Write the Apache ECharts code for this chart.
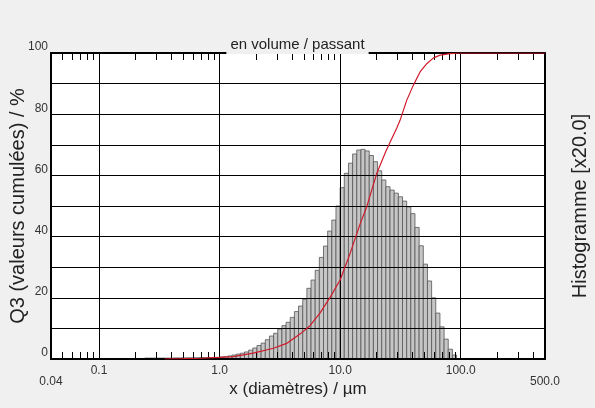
<!DOCTYPE html>
<html><head><meta charset="utf-8">
<script src="https://cdn.jsdelivr.net/npm/echarts@6/dist/echarts.min.js"></script>
<style>html,body{margin:0;padding:0;background:#f0f0f0;}#c{width:595px;height:408px;}</style>
</head><body><div id="c"></div>
<script>
// Histogram class edges (µm) and heights (y-axis units, histogram scaled x20)
const binEdges = [0.2395,0.2593,0.2807,0.3039,0.3290,0.3562,0.3857,0.4175,0.4520,0.4894,0.5298,0.5736,0.6210,0.6723,0.7279,0.7881,0.8532,0.9237,
  1.0,1.0826,1.1721,1.2690,1.3738,1.4874,1.6103,1.7434,1.8874,2.0434,2.2122,2.3950,2.5929,2.8072,3.0392,3.2903,3.5622,3.8566,4.1753,4.5203,4.8939,5.2983,5.7362,6.2102,6.7234,7.2790,7.8805,8.5317,9.2367,
  10,10.826,11.721,12.690,13.738,14.874,16.103,17.434,18.874,20.434,22.122,23.950,25.929,28.072,30.392,32.903,35.622,38.566,41.753,45.203,48.939,52.983,57.362,62.102,67.234,72.790,78.805,85.317,92.367];
const histValues = [0.3,0.3,0.3,0.3,0.3,0.3,0.3,0.35,0.35,0.35,0.4,0.4,0.4,0.45,0.45,0.5,0.5,0.55,
  0.65,0.8,1.0,1.3,1.6,1.9,2.3,2.9,3.6,4.4,5.2,6.3,7.5,8.4,9.8,10.9,12.0,13.6,15.5,17.3,19.5,23.1,25.8,29.0,33.2,36.9,41.8,45.4,50.0,
  56.0,60.7,64.0,67.0,68.3,68.5,68.0,66.5,64.5,61.5,58.5,56.3,55.2,54.2,53.0,51.6,49.7,47.5,43.0,37.0,31.0,25.5,20.0,15.0,10.5,6.5,3.2,1.3];
// Cumulative passing curve Q3 (%)
const cumSizes  = [0.35,0.5,0.7,1.0,1.3,1.9,2.8,3.6,4.7,5.6,6.8,8.3,10,12.1,14.6,16.6,20.1,24,29.5,31.4,35.7,40.5,46,52.3,59.4,67.6,81.7,98.8,500];
const cumValues = [0,0.1,0.25,0.5,0.8,1.9,3.5,5.1,8.3,10.8,15,20.3,25.8,34.5,44,49.7,60.6,68,75.5,78,84.6,89.5,93.8,96.5,98.4,99.3,99.8,100,100];
// Axis ticks / labels
const xTickValues = [0.04,0.1,1,10,100,500];
const xTickLabels = ['0.04','0.1','1.0','10.0','100.0','500.0'];
const xMinorTicks = [0.05,0.06,0.07,0.08,0.09,0.2,0.3,0.4,0.5,0.6,0.7,0.8,0.9,2,3,4,5,6,7,8,9,20,30,40,50,60,70,80,90,200,300,400];
const yLabelValues = [0,20,40,60,80,100];

const FONT = 'Liberation Sans, Arial, sans-serif';
function xLabel(v, onlyEnds) {
  for (let i = 0; i < xTickValues.length; i++) {
    if (Math.abs(v - xTickValues[i]) / xTickValues[i] < 1e-6) {
      const isEnd = (i === 0 || i === xTickValues.length - 1);
      return (isEnd === onlyEnds) ? xTickLabels[i] : '';
    }
  }
  return '';
}
const histData = histValues.map((v, i) => [binEdges[i], binEdges[i + 1], v]);
const cumData = cumSizes.map((s, i) => [s, cumValues[i]]);

const chart = echarts.init(document.getElementById('c'), null, {renderer: 'canvas'});
chart.setOption({
  backgroundColor: '#f0f0f0',
  animation: false,
  title: {
    text: 'en volume / passant', left: 'center', top: 35, z: 10,
    backgroundColor: '#f0f0f0', padding: [2, 4, 2, 4],
    textStyle: {fontFamily: FONT, fontSize: 15, fontWeight: 'normal', color: '#222'}
  },
  grid: {left: 51, right: 50, top: 53, bottom: 49, show: true, backgroundColor: '#ffffff', borderWidth: 0,
    containLabel: false, outerBoundsMode: 'none'},
  xAxis: [
    {
      type: 'log', logBase: 10, min: 0.04, max: 500, position: 'bottom', z: 3,
      axisLine: {show: true, lineStyle: {color: '#000', width: 2}},
      axisTick: {show: false},
      splitLine: {show: true, lineStyle: {color: '#000', width: 1}},
      axisLabel: {show: true, margin: 6, fontFamily: FONT, fontSize: 12, color: '#333', formatter: v => xLabel(v, false)},
      name: 'x (diamètres) / µm', nameLocation: 'middle', nameGap: 22, nameMoveOverlap: false,
      nameTextStyle: {fontFamily: FONT, fontSize: 17, color: '#222'}
    },
    {
      type: 'log', logBase: 10, min: 0.04, max: 500, position: 'bottom', z: 3,
      axisLine: {show: false},
      axisTick: {show: true, inside: true, length: 7, customValues: xMinorTicks, lineStyle: {color: '#000', width: 1}},
      splitLine: {show: false},
      axisLabel: {show: true, margin: 17, showMinLabel: true, showMaxLabel: true, fontFamily: FONT, fontSize: 12, color: '#333', formatter: v => xLabel(v, true)}
    },
    {
      type: 'log', logBase: 10, min: 0.04, max: 500, position: 'top', z: 3,
      axisLine: {show: true, lineStyle: {color: '#000', width: 2}},
      axisTick: {show: true, inside: true, length: 7, customValues: xMinorTicks, lineStyle: {color: '#000', width: 1}},
      splitLine: {show: false},
      axisLabel: {show: false}
    }
  ],
  yAxis: [
    {
      type: 'value', min: 0, max: 100, interval: 10, position: 'left', z: 3,
      axisLine: {show: true, lineStyle: {color: '#000', width: 2}},
      axisTick: {show: false},
      splitLine: {show: true, lineStyle: {color: '#000', width: 1}},
      axisLabel: {margin: 3, verticalAlign: 'bottom', fontFamily: FONT, fontSize: 12, color: '#333',
        formatter: v => (yLabelValues.indexOf(Math.round(v)) >= 0 ? String(Math.round(v)) : '')},
      name: 'Q3 (valeurs cumulées) / %', nameLocation: 'middle', nameGap: 23, nameRotate: 90, nameMoveOverlap: false,
      nameTextStyle: {fontFamily: FONT, fontSize: 20, color: '#222'}
    },
    {
      type: 'value', min: 0, max: 100, interval: 10, position: 'right', z: 3,
      axisLine: {show: true, lineStyle: {color: '#000', width: 2}},
      axisTick: {show: false}, splitLine: {show: false}, axisLabel: {show: false},
      name: 'Histogramme [x20.0]', nameLocation: 'middle', nameGap: 25, nameRotate: 90, nameMoveOverlap: false,
      nameTextStyle: {fontFamily: FONT, fontSize: 20, color: '#222'}
    }
  ],
  series: [
    {
      type: 'custom', xAxisIndex: 0, yAxisIndex: 0, z: 2,
      data: histData, encode: {x: [0, 1], y: 2},
      renderItem: function (params, api) {
        const p0 = api.coord([api.value(0), 0]);
        const p1 = api.coord([api.value(1), api.value(2)]);
        return {type: 'rect', shape: {x: p0[0], y: p1[1], width: p1[0] - p0[0], height: p0[1] - p1[1]},
          style: {fill: '#c6c6c6', stroke: '#555555', lineWidth: 0.8}};
      }
    },
    {
      type: 'line', xAxisIndex: 0, yAxisIndex: 0, z: 5,
      data: cumData, symbol: 'none', smooth: false,
      lineStyle: {color: '#d01a2a', width: 1.2}
    }
  ]
});
</script></body></html>
